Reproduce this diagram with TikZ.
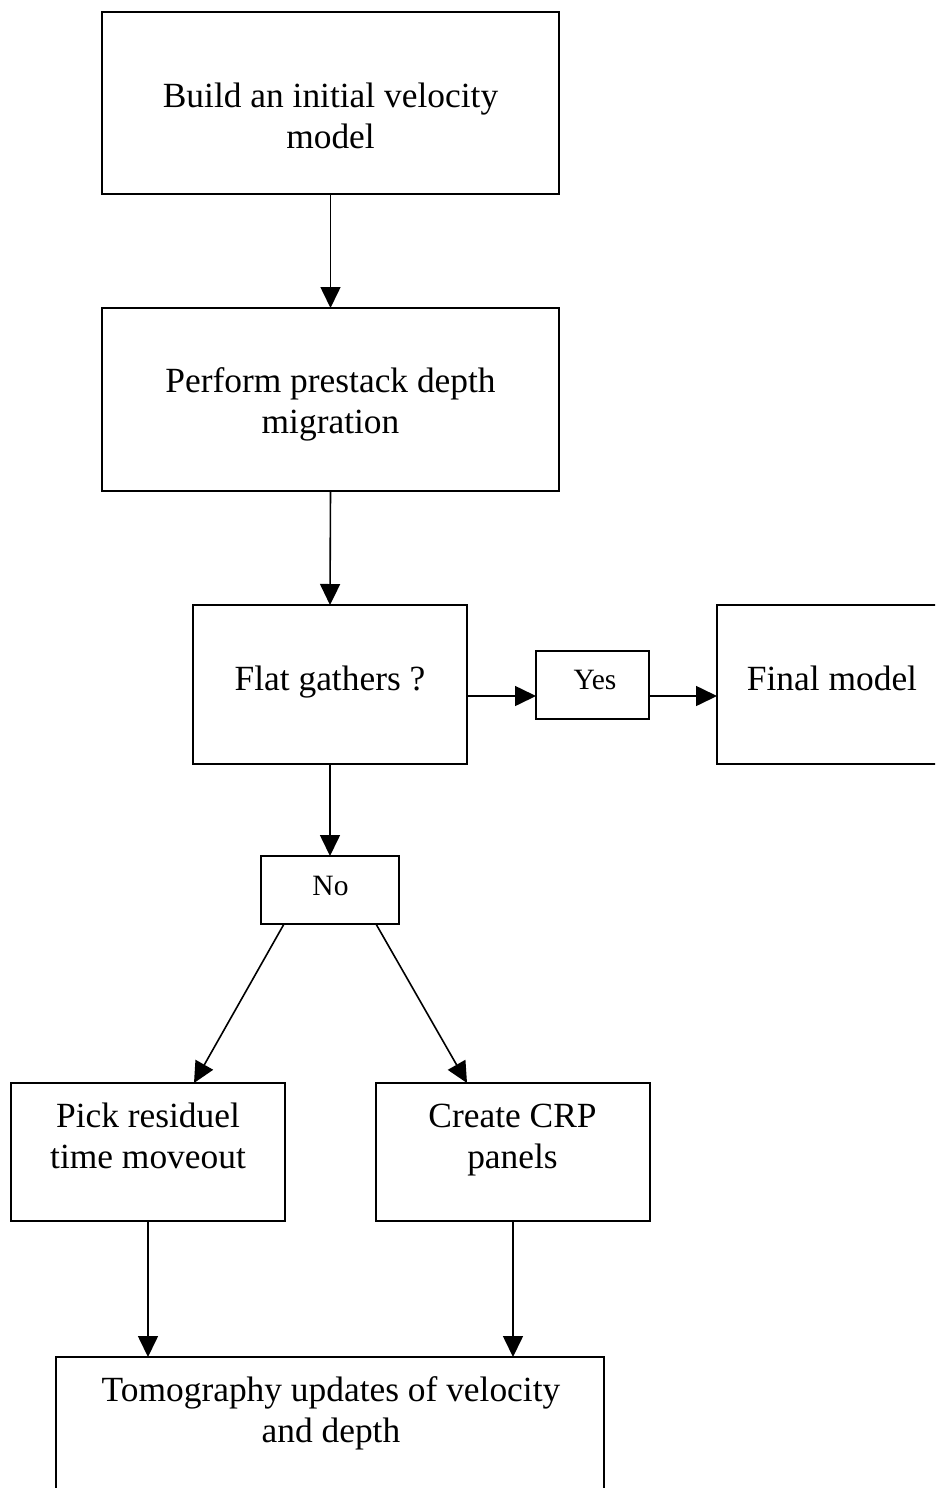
\documentclass[tikz,border=0pt]{standalone}
\usepackage{fontspec}
\setmainfont{Liberation Serif}
\usetikzlibrary{arrows.meta}
\tikzset{
  box/.style={draw, line width=1.8pt, rectangle, inner sep=0pt, outer sep=0pt},
  txt/.style={align=center, inner sep=0pt, outer sep=0pt, anchor=base, font=\fontsize{35.4}{41}\selectfont},
  smalltxt/.style={align=center, inner sep=0pt, outer sep=0pt, anchor=base, font=\fontsize{29.5}{34}\selectfont},
  arr/.style={line width=1.6pt, -{Triangle[length=21pt,width=20pt]}}
}
\begin{document}
\begin{tikzpicture}[x=1pt,y=-1pt]
\useasboundingbox (0,0) rectangle (935,1488);
\clip (0,0) rectangle (935,1488);
% boxes
\node[box, minimum width=457pt, minimum height=182pt] (b1) at (330.5,103) {};
\node[box, minimum width=457pt, minimum height=183pt] (b2) at (330.5,399.5) {};
\node[box, minimum width=274pt, minimum height=159pt] (b3) at (330,684.5) {};
\node[box, minimum width=113pt, minimum height=68pt] (yes) at (592.5,685) {};
\node[box, minimum width=260pt, minimum height=159pt] (fin) at (847,684.5) {};
\node[box, minimum width=138pt, minimum height=68pt] (no) at (330,890) {};
\node[box, minimum width=274pt, minimum height=138pt] (pick) at (148,1152) {};
\node[box, minimum width=274pt, minimum height=138pt] (crp) at (513,1152) {};
\node[box, minimum width=548pt, minimum height=200pt] (tomo) at (330,1457) {};
% texts (anchor base = baseline of the last line)
\node[txt] (t1) at (330.5,148) {Build an initial velocity\\model};
\node[txt] (t2) at (330.5,433) {Perform prestack depth\\migration};
\node[txt] (t3) at (330,690) {Flat gathers ?};
\node[smalltxt] (tyes) at (595,689) {Yes};
\node[txt] (tfin) at (832,690) {Final model};
\node[smalltxt] (tno) at (330.5,895) {No};
\node[txt] (tpick) at (148,1168) {Pick residuel\\time moveout};
\node[txt] (tcrp) at (512.5,1168) {Create CRP\\panels};
\node[txt] (ttomo) at (331,1442) {Tomography updates of velocity\\and depth};
% connectors
\draw[arr] (b1.south) -- (b2.north);
\draw[arr] (b2.south) -- (b3.north);
\draw[arr] ([yshift=-11.5pt]b3.east) -- ([yshift=-11pt]yes.west);
\draw[arr] ([yshift=-11pt]yes.east) -- ([yshift=-11.5pt]fin.west);
\draw[arr] (b3.south) -- (no.north);
\draw[arr] ([xshift=23pt]no.south west) -- ([xshift=46pt]pick.north);
\draw[arr] ([xshift=-23pt]no.south east) -- ([xshift=-46pt]crp.north);
\draw[arr] (pick.south) -- (pick.south |- tomo.north);
\draw[arr] (crp.south) -- (crp.south |- tomo.north);
\end{tikzpicture}
\end{document}
